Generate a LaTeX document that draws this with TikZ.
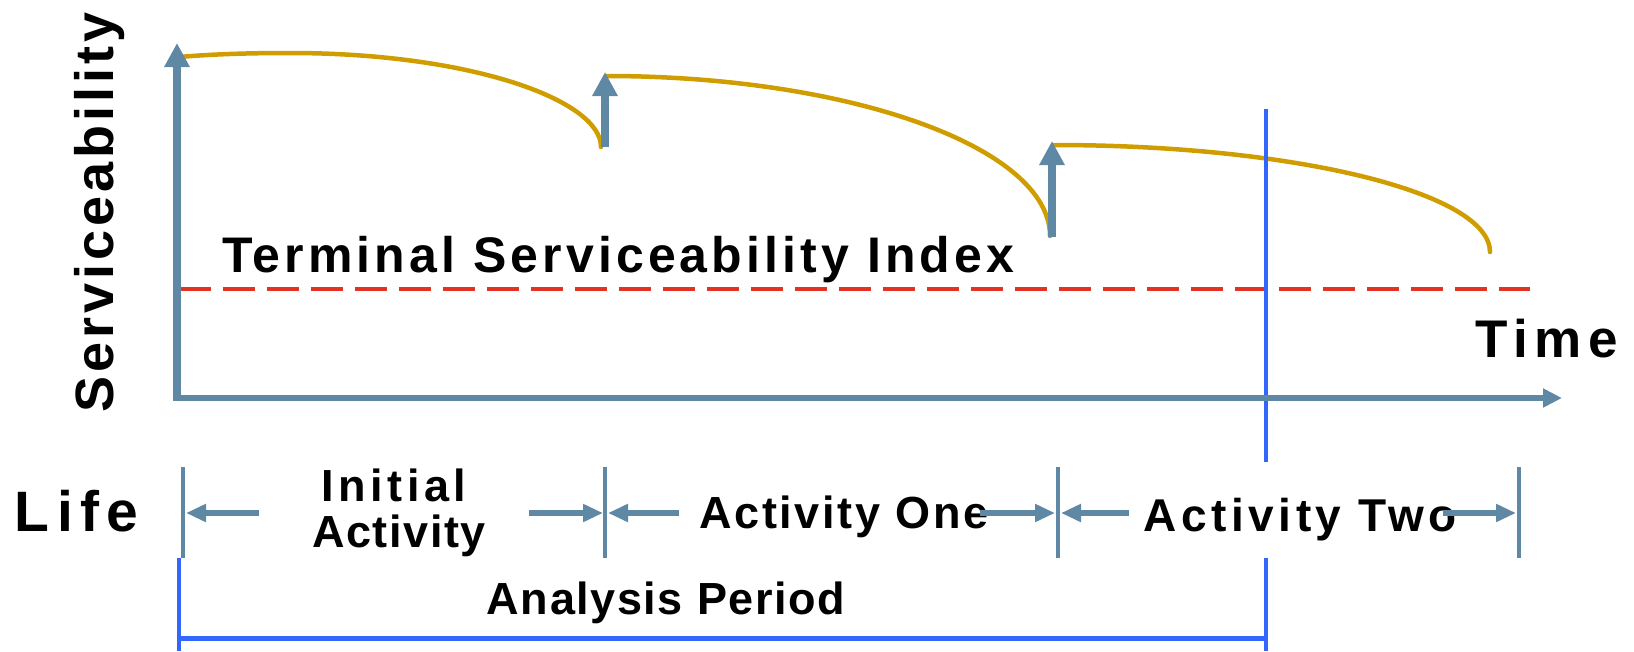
\documentclass[tikz,border=0pt]{standalone}
\usepackage{fontspec}
\setmainfont{Liberation Sans}
\usetikzlibrary{arrows.meta}
\definecolor{axisblue}{RGB}{94,136,163}
\definecolor{wearline}{RGB}{208,157,0}
\definecolor{tsired}{RGB}{228,50,34}
\definecolor{periodblue}{RGB}{51,102,255}
% bold label: size, tracking, text
\newcommand\lbl[3]{{\fontsize{#1}{#1}\selectfont\bfseries\addfontfeature{LetterSpace=#2}#3}}
\tikzset{
  axisline/.style={draw=axisblue, line width=7.5pt},
  bigtip/.style={-{Triangle[length=24pt,width=24pt]}},
  wear/.style={draw=wearline, line width=4.5pt, line cap=round},
  tsi/.style={draw=tsired, line width=4pt, dash pattern=on 32pt off 12pt},
  period/.style={draw=periodblue, line width=4pt},
  tickmark/.style={draw=axisblue, line width=4.5pt},
  dimarrow/.style={draw=axisblue, line width=6pt, -{Triangle[length=20pt,width=17pt]}},
  txt/.style={inner sep=0pt, outer sep=0pt, text=black},
}
\begin{document}
\begin{tikzpicture}[x=1pt,y=-1pt]
\useasboundingbox (0,0) rectangle (1634,651);

% ---- reference points ----
\coordinate (ybot) at (177,401);
\coordinate (ytop) at (177,43);
\coordinate (xbeg) at (173.5,398);
\coordinate (xend) at (1562,398);

\coordinate (c1a) at (179,57);
\coordinate (c1m) at (290,53);
\coordinate (c1b) at (601,147);
\coordinate (c2a) at (606,76);
\coordinate (c2b) at (1050,236);
\coordinate (c3a) at (1054,145);
\coordinate (c3b) at (1490,252);

\coordinate (r2b) at (605,147);
\coordinate (r2t) at (605,72);
\coordinate (r3b) at (1052,237);
\coordinate (r3t) at (1052,141);

\coordinate (tsiL) at (179,289);
\coordinate (tsiR) at (1530,289);

\coordinate (apTop) at (1266,109);
\coordinate (apMid) at (1266,462);

% ---- serviceability curves ----
\draw[wear] (c1a) .. controls (215,54) and (250,53) .. (c1m)
            .. controls (470,53) and (601,100) .. (c1b);
\draw[wear] (c2a) .. controls (851,76) and (1050,148) .. (c2b);
\draw[wear] (c3a) .. controls (1295,145) and (1490,193) .. (c3b);

% ---- terminal serviceability level ----
\draw[tsi] (tsiL) -- (tsiR);

% ---- end of analysis period ----
\draw[period] (apTop) -- (apMid);

% ---- axes ----
\draw[axisline, bigtip] (ybot) -- (ytop);
\draw[draw=axisblue, line width=6pt, -{Triangle[length=19pt,width=18pt]}] (xbeg) -- (xend);

% ---- rehabilitation jumps ----
\draw[axisline, line width=8pt, bigtip] (r2b) -- (r2t);
\draw[axisline, line width=8pt, bigtip] (r3b) -- (r3t);

% ---- axis labels ----
\node[txt, anchor=base west] (tsilabel) at (222,272) {\lbl{50}{8.2}{Terminal Serviceability Index}};
\node[txt, anchor=base west] (timelabel) at (1475,357) {\lbl{53}{13}{Time}};
\node[txt, anchor=base west, rotate=90] (servlabel) at (113,412) {\lbl{54}{7.3}{Serviceability}};
\node[txt, anchor=base west] (lifelabel) at (15,531) {\lbl{57}{13}{Life}};

% ---- life segments ----
\coordinate (t0t) at (183,467); \coordinate (t0b) at (183,558);
\coordinate (t1t) at (605,467); \coordinate (t1b) at (605,558);
\coordinate (t2t) at (1058,467); \coordinate (t2b) at (1058,558);
\coordinate (t3t) at (1519,467); \coordinate (t3b) at (1519,558);
\draw[tickmark] (t0t) -- (t0b);
\draw[tickmark] (t1t) -- (t1b);
\draw[tickmark] (t2t) -- (t2b);
\draw[tickmark] (t3t) -- (t3b);

\coordinate (a0s) at (259,513); \coordinate (a0e) at (186,513);
\coordinate (a1s) at (529,513); \coordinate (a1e) at (603,513);
\coordinate (a2s) at (679,513); \coordinate (a2e) at (608,513);
\coordinate (a3s) at (980,513); \coordinate (a3e) at (1055,513);
\coordinate (a4s) at (1129,513); \coordinate (a4e) at (1061,513);
\coordinate (a5s) at (1443,513); \coordinate (a5e) at (1516,513);

\node[txt, anchor=base] (init1) at (394,501) {\lbl{45}{10}{Initial}};
\node[txt, anchor=base] (init2) at (399,547) {\lbl{45}{3.5}{Activity}};
\node[txt, anchor=base] (act1) at (844,528) {\lbl{45}{6}{Activity One}};
\node[txt, anchor=base] (act2) at (1300,531) {\lbl{46}{10}{Activity Two}};

\draw[dimarrow] (a0s) -- (a0e);
\draw[dimarrow] (a1s) -- (a1e);
\draw[dimarrow] (a2s) -- (a2e);
\draw[dimarrow] (a3s) -- (a3e);
\draw[dimarrow] (a4s) -- (a4e);
\draw[dimarrow] (a5s) -- (a5e);

% ---- analysis period bracket ----
\coordinate (bLt) at (179,558); \coordinate (bLb) at (179,651);
\coordinate (bRt) at (1266,558); \coordinate (bRb) at (1266,651);
\coordinate (bL) at (179,638); \coordinate (bR) at (1266,638);
\draw[period] (bLt) -- (bLb);
\draw[period] (bRt) -- (bRb);
\draw[period, line width=5pt] (bL) -- (bR);
\node[txt, anchor=base] (aplabel) at (666,614) {\lbl{45}{3.5}{Analysis Period}};

\end{tikzpicture}
\end{document}
